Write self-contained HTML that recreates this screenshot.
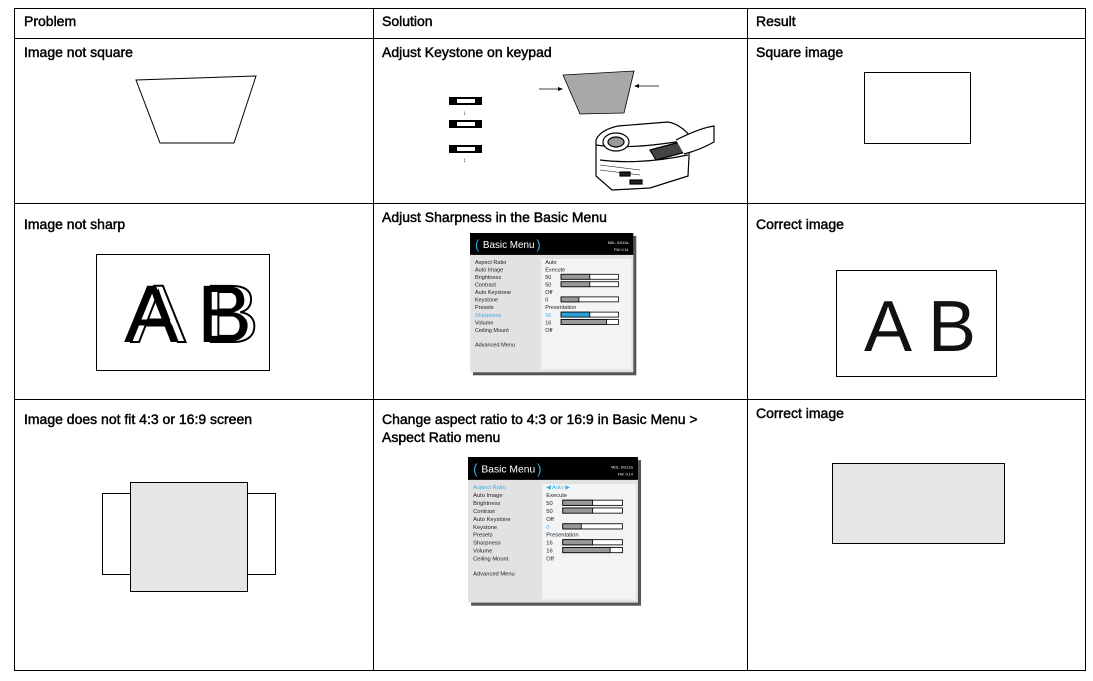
<!DOCTYPE html>
<html><head><meta charset="utf-8"><style>
html,body{margin:0;padding:0;background:#fff}
svg{display:block}
.h{font-family:"Liberation Sans",sans-serif;font-size:14px;fill:#000;stroke:#000;stroke-width:0.45}
.m{font-family:"Liberation Sans",sans-serif;font-size:5.6px;fill:#222}
</style></head><body>
<svg width="1093" height="681" viewBox="0 0 1093 681" xmlns="http://www.w3.org/2000/svg">
<defs>
<g id="menu">
 <rect x="3" y="3" width="165" height="140" fill="#555"/>
 <rect x="0" y="0" width="165" height="140" fill="#e2e2e2"/>
 <rect x="0" y="0" width="165" height="22" fill="#000"/>
 <text x="5" y="16" font-family="Liberation Sans,sans-serif" font-size="13" fill="#3ab0e8">(</text>
 <text x="13" y="15" font-family="Liberation Sans,sans-serif" font-size="10" fill="#fff">Basic Menu</text>
 <text x="67" y="16" font-family="Liberation Sans,sans-serif" font-size="13" fill="#3ab0e8">)</text>
 <text x="160" y="11" font-family="Liberation Sans,sans-serif" font-size="3.6" fill="#fff" text-anchor="end">MDL: IN112a</text>
 <text x="160" y="18" font-family="Liberation Sans,sans-serif" font-size="3.6" fill="#fff" text-anchor="end">FW: 0.14</text>
 <rect x="72" y="26" width="91" height="111" fill="#f2f4f6"/>
</g>
</defs>

<g stroke="#000" stroke-width="1" fill="none">
 <rect x="14.5" y="8.5" width="1071" height="662"/>
 <line x1="14" y1="38.5" x2="1086" y2="38.5"/>
 <line x1="14" y1="203.5" x2="1086" y2="203.5"/>
 <line x1="14" y1="399.5" x2="1086" y2="399.5"/>
 <line x1="373.5" y1="8" x2="373.5" y2="671"/>
 <line x1="747.5" y1="8" x2="747.5" y2="671"/>
</g>

<text class="h" x="24" y="26">Problem</text>
<text class="h" x="382" y="26">Solution</text>
<text class="h" x="756" y="26">Result</text>
<text class="h" x="24" y="57">Image not square</text>
<text class="h" x="382" y="57">Adjust Keystone on keypad</text>
<text class="h" x="756" y="57">Square image</text>
<text class="h" x="24" y="229">Image not sharp</text>
<text class="h" x="382" y="222">Adjust Sharpness in the Basic Menu</text>
<text class="h" x="756" y="229">Correct image</text>
<text class="h" x="24" y="424">Image does not fit 4:3 or 16:9 screen</text>
<text class="h" x="382" y="424">Change aspect ratio to 4:3 or 16:9 in Basic Menu &gt;</text>
<text class="h" x="382" y="442">Aspect Ratio menu</text>
<text class="h" x="756" y="418">Correct image</text>

<polygon points="136,80 256,76 234,143 160,143" fill="#fff" stroke="#000" stroke-width="1"/>
<polygon points="563,75 634,71 624,113 580,114" fill="#a8a8a8" stroke="#000" stroke-width="0.8"/>
<line x1="539" y1="89" x2="562" y2="89" stroke="#000" stroke-width="0.7"/>
<polygon points="563,89 558,87 558,91" fill="#000"/>
<line x1="635" y1="86" x2="659" y2="86" stroke="#000" stroke-width="0.7"/>
<polygon points="634,86 639,84 639,88" fill="#000"/>
<g fill="#fff" stroke="#000" stroke-width="2">
 <rect x="450" y="98" width="31" height="6"/>
 <rect x="450" y="121" width="31" height="6"/>
 <rect x="450" y="146" width="31" height="6"/>
</g>
<g fill="#000">
 <rect x="450" y="97" width="7" height="8"/><rect x="475" y="97" width="6" height="8"/>
 <rect x="450" y="120" width="7" height="8"/><rect x="475" y="120" width="6" height="8"/>
 <rect x="450" y="145" width="7" height="8"/><rect x="475" y="145" width="6" height="8"/>
 <text x="463" y="115" font-size="6" font-family="Liberation Sans,sans-serif">↕</text>
 <text x="463" y="162" font-size="6" font-family="Liberation Sans,sans-serif">↕</text>
</g>
<g fill="none" stroke="#000" stroke-width="1.2">
 <path d="M596,140 Q600,130 618,126 L668,122 Q680,124 690,136 L688,176 L650,188 L612,190 L596,176 Z" fill="#fff"/>
 <path d="M596,145 Q630,150 688,140"/>
 <path d="M600,160 Q640,165 688,155"/>
 <ellipse cx="616" cy="142" rx="13" ry="9" fill="#fff"/>
 <ellipse cx="616" cy="142" rx="8" ry="5" fill="#999"/>
 <path d="M650,150 L680,142 L686,152 L656,160 Z" fill="#444"/>
 <path d="M676,140 Q700,128 714,126 L714,142 Q700,150 684,154" fill="#fff"/>
 <rect x="620" y="172" width="10" height="4" fill="#222"/>
 <rect x="630" y="180" width="12" height="4" fill="#222"/>
</g>
<g stroke="#000" stroke-width="0.6">
 <line x1="600" y1="165" x2="640" y2="170"/><line x1="600" y1="170" x2="640" y2="175"/>
</g>
<rect x="864.5" y="72.5" width="106" height="71" fill="#fff" stroke="#000"/>

<rect x="96.5" y="254.5" width="173" height="116" fill="#fff" stroke="#000"/>
<g font-family="Liberation Sans,sans-serif" font-size="82">
 <text x="124" y="342" fill="#000">A</text>
 <text x="131" y="342" fill="none" stroke="#000" stroke-width="2">A</text>
 <text x="197" y="342" fill="#000">B</text>
 <text x="204" y="342" fill="none" stroke="#000" stroke-width="2">B</text>
</g>
<rect x="836.5" y="270.5" width="160" height="106" fill="#fff" stroke="#000"/>
<text x="864" y="351" font-family="Liberation Sans,sans-serif" font-size="72" fill="#111">A B</text>

<g transform="translate(470,233) scale(0.99,0.995)">
 <use href="#menu"/>
 <g class="m">
  <text x="5" y="31">Aspect Ratio</text><text x="5" y="38.6">Auto Image</text><text x="5" y="46.2">Brightness</text><text x="5" y="53.8">Contrast</text><text x="5" y="61.4">Auto Keystone</text><text x="5" y="69">Keystone</text><text x="5" y="76.6">Presets</text><text x="5" y="84.2" fill="#3ab0e8">Sharpness</text><text x="5" y="91.8">Volume</text><text x="5" y="99.4">Ceiling Mount</text><text x="5" y="114">Advanced Menu</text>
  <text x="76" y="31">Auto</text><text x="76" y="38.6">Execute</text><text x="76" y="46.2">50</text><text x="76" y="53.8">50</text><text x="76" y="61.4">Off</text><text x="76" y="69">0</text><text x="76" y="76.6">Presentation</text><text x="76" y="84.2" fill="#3ab0e8">16</text><text x="76" y="91.8">16</text><text x="76" y="99.4">Off</text>
 </g>
 <g stroke="#000" stroke-width="0.8">
  <rect x="92" y="41.5" width="58" height="5" fill="#fff"/><rect x="92" y="41.5" width="29" height="5" fill="#999"/>
  <rect x="92" y="49" width="58" height="5" fill="#fff"/><rect x="92" y="49" width="29" height="5" fill="#999"/>
  <rect x="92" y="64.2" width="58" height="5" fill="#fff"/><rect x="92" y="64.2" width="18" height="5" fill="#999"/>
  <rect x="92" y="79.5" width="58" height="5" fill="#fff"/><rect x="92" y="79.5" width="29" height="5" fill="#2a9fd8"/>
  <rect x="92" y="87" width="58" height="5" fill="#fff"/><rect x="92" y="87" width="46" height="5" fill="#999"/>
 </g>
</g>

<g transform="translate(468,457) scale(1.03,1.04)">
 <use href="#menu"/>
 <g class="m">
  <text x="5" y="31" fill="#3ab0e8">Aspect Ratio</text><text x="5" y="38.6">Auto Image</text><text x="5" y="46.2">Brightness</text><text x="5" y="53.8">Contrast</text><text x="5" y="61.4">Auto Keystone</text><text x="5" y="69">Keystone</text><text x="5" y="76.6">Presets</text><text x="5" y="84.2">Sharpness</text><text x="5" y="91.8">Volume</text><text x="5" y="99.4">Ceiling Mount</text><text x="5" y="114">Advanced Menu</text>
  <text x="76" y="31" fill="#3ab0e8">◀ Auto ▶</text><text x="76" y="38.6">Execute</text><text x="76" y="46.2">50</text><text x="76" y="53.8">50</text><text x="76" y="61.4">Off</text><text x="76" y="69" fill="#3ab0e8">0</text><text x="76" y="76.6">Presentation</text><text x="76" y="84.2">16</text><text x="76" y="91.8">16</text><text x="76" y="99.4">Off</text>
 </g>
 <g stroke="#000" stroke-width="0.8">
  <rect x="92" y="41.5" width="58" height="5" fill="#fff"/><rect x="92" y="41.5" width="29" height="5" fill="#999"/>
  <rect x="92" y="49" width="58" height="5" fill="#fff"/><rect x="92" y="49" width="29" height="5" fill="#999"/>
  <rect x="92" y="64.2" width="58" height="5" fill="#fff"/><rect x="92" y="64.2" width="18" height="5" fill="#999"/>
  <rect x="92" y="79.5" width="58" height="5" fill="#fff"/><rect x="92" y="79.5" width="29" height="5" fill="#999"/>
  <rect x="92" y="87" width="58" height="5" fill="#fff"/><rect x="92" y="87" width="46" height="5" fill="#999"/>
 </g>
</g>

<rect x="102.5" y="493.5" width="173" height="81" fill="#fff" stroke="#000"/>
<rect x="130.5" y="482.5" width="117" height="109" fill="#e6e6e8" stroke="#000"/>
<rect x="832.5" y="463.5" width="172" height="80" fill="#e6e6e8" stroke="#000"/>
</svg>
</body></html>
